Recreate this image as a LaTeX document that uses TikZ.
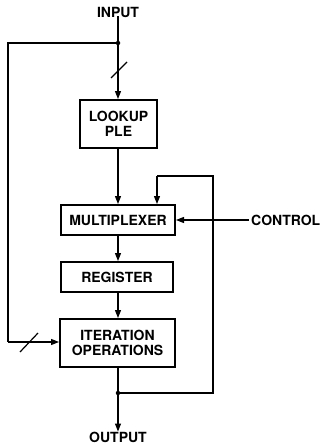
\documentclass[tikz,border=0pt]{standalone}
\usepackage{fontspec}
\setmainfont{TeX Gyre Heros}
\usetikzlibrary{arrows.meta}
\begin{document}
\begin{tikzpicture}[x=1pt,y=-1pt,
  blk/.style={draw,line width=2pt,minimum width=#1,inner sep=0pt,align=center,font=\fontsize{14}{15.5}\selectfont\bfseries},
  lbl/.style={inner sep=0pt,font=\fontsize{14}{15.5}\selectfont\bfseries},
  wire/.style={line width=1.2pt},
  arr/.style={wire,-{Triangle[length=8pt,width=6pt]}},
  dot/.style={circle,fill,inner sep=0pt,minimum size=4.5pt}]
\useasboundingbox (0,0) rectangle (324,447);
\node[lbl] (in) at (118,12) {INPUT};
\node[lbl] (out) at (118,437) {OUTPUT};
\node[lbl,anchor=west] (ctl) at (251,220) {CONTROL};
\node[blk=77pt,minimum height=48pt] (lut) at (118.5,124) {LOOKUP\\[-1pt]PLE};
\node[blk=114pt,minimum height=30pt] (mux) at (118,220) {MULTIPLEXER};
\node[blk=112pt,minimum height=30pt] (reg) at (117,277) {REGISTER};
\node[blk=115pt,minimum height=48pt] (itr) at (117.5,343) {ITERATION\\[-1pt]OPERATIONS};
\node[dot] (j1) at (118,43) {};
\node[dot] (j2) at (118,393) {};
\coordinate (c1) at (8,43);
\coordinate (c2) at (8,342);
\coordinate (f1) at (213,393);
\coordinate (f2) at (213,176);
\coordinate (f3) at (157,176);
\draw[wire] (in.south) ++(0,-1) -- (j1.center);
\draw[arr] (j1.center) -- (lut.north -| j1);
\draw[wire] (j1.center) -- (c1) -- (c2);
\draw[arr] (c2) -- (c2 -| itr.west);
\draw[arr] (lut.south -| j1) -- (mux.north -| j1);
\draw[arr] (mux.south -| j1) -- (reg.north -| j1);
\draw[arr] (reg.south -| j1) -- (itr.north -| j1);
\draw[wire] (itr.south -| j2) -- (j2.center);
\draw[arr] (j2.center) -- (out.north);
\draw[wire] (j2.center) -- (f1) -- (f2) -- (f3);
\draw[arr] (f3) -- (mux.north -| f3);
\draw[arr] (ctl.west) ++(-2,0) -- (mux.east);
\draw[wire] (111,78) -- (127,62);
\draw[wire] (20,352) -- (38,333);
\end{tikzpicture}
\end{document}
